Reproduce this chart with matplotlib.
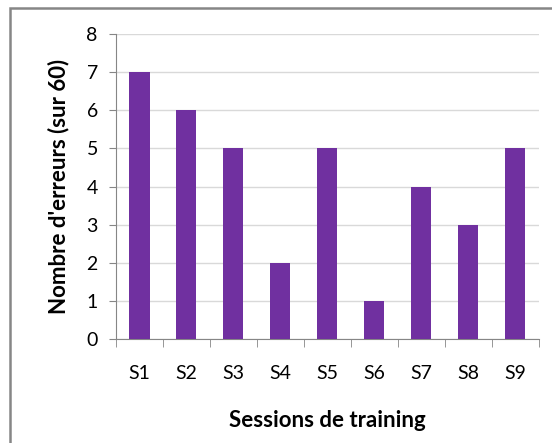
import matplotlib.pyplot as plt
from matplotlib.patches import Rectangle

plt.rcParams['font.family'] = ['Lato', 'DejaVu Sans']

# données
sessions = ['S1', 'S2', 'S3', 'S4', 'S5', 'S6', 'S7', 'S8', 'S9']
erreurs = [7, 6, 5, 2, 5, 1, 4, 3, 5]

fig = plt.figure(figsize=(5.52, 4.43), dpi=100)
ax = fig.add_axes([0.210, 0.235, 0.766, 0.688])

x = list(range(len(sessions)))
ax.bar(x, erreurs, width=0.43, color='#7030A0', zorder=3)

ax.set_xlim(-0.5, len(sessions) - 0.5)
ax.set_ylim(0, 8)
ax.set_yticks(range(0, 9))
ax.yaxis.grid(True, color='#d9d9d9', linewidth=1, zorder=0)

ax.set_xticks(x)
ax.set_xticklabels(sessions, fontsize=14)
ax.tick_params(axis='x', length=0, pad=19)
ax.tick_params(axis='y', labelsize=14, length=5, color='#868686', pad=8)
# petites graduations entre les catégories
ax.set_xticks([i - 0.5 for i in range(len(sessions) + 1)], minor=True)
ax.tick_params(axis='x', which='minor', length=6, color='#868686')

for s in ['top', 'right']:
    ax.spines[s].set_visible(False)
for s in ['left', 'bottom']:
    ax.spines[s].set_color('#868686')

ax.set_xlabel('Sessions de training', fontsize=16, fontweight='bold', labelpad=20)
ax.set_ylabel("Nombre d'erreurs (sur 60)", fontsize=16, fontweight='bold', labelpad=12)

# cadre du graphique
fig.patches.append(Rectangle((10 / 552, -0.05), 1.1, 1 - 8 / 443 + 0.05,
                             transform=fig.transFigure, fill=False,
                             edgecolor='#868686', linewidth=1.8))

fig.savefig('out.png', dpi=100)
